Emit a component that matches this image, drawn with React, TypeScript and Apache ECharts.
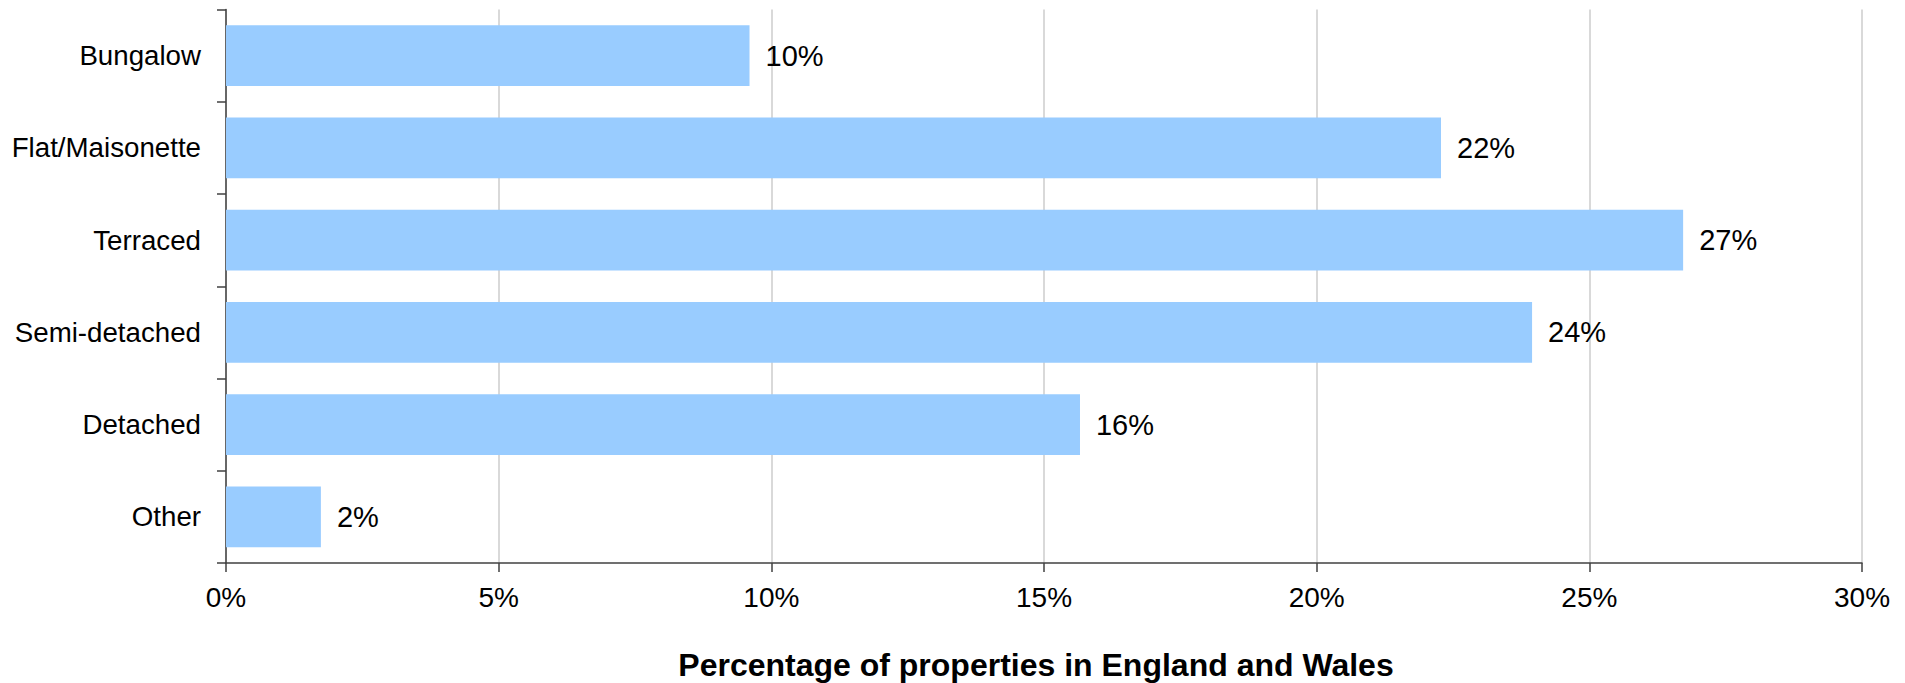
import React, { useEffect, useRef } from "react";
import * as echarts from "echarts";

const categories = ["Bungalow", "Flat/Maisonette", "Terraced", "Semi-detached", "Detached", "Other"];
const shares = [9.6, 22.28, 26.72, 23.95, 15.66, 1.74];
const xTicks = { min: 0, max: 30, interval: 5 };
const axisTitle = "Percentage of properties in England and Wales";

export default function App() {
  const ref = useRef<HTMLDivElement>(null);
  useEffect(() => {
    const chart = echarts.init(ref.current!, null, { renderer: "svg" });
    const font = "'Liberation Sans', Arial, sans-serif";
    chart.setOption({
      animation: false,
      textStyle: { fontFamily: font },
      grid: { left: 226, right: 43, top: 9.5, bottom: 120, containLabel: false },
      xAxis: {
        type: "value",
        min: xTicks.min,
        max: xTicks.max,
        interval: xTicks.interval,
        axisLine: { show: true, lineStyle: { color: "#404040", width: 1.5 } },
        axisTick: { show: true, length: 9, lineStyle: { color: "#404040", width: 1.5 } },
        splitLine: { show: true, lineStyle: { color: "#cccccc", width: 1.5 } },
        axisLabel: {
          formatter: "{value}%",
          color: "#000",
          fontSize: 28,
          margin: 20,
          fontFamily: font,
        },
      },
      yAxis: {
        type: "category",
        data: categories,
        inverse: true,
        axisLine: { show: true, lineStyle: { color: "#404040", width: 1.5 } },
        axisTick: { show: true, length: 9, lineStyle: { color: "#404040", width: 1.5 } },
        axisLabel: { color: "#000", fontSize: 27.7, margin: 25, fontFamily: font },
        splitLine: { show: false },
      },
      graphic: [
        {
          type: "text",
          x: 1036,
          y: 665,
          style: {
            text: axisTitle,
            fill: "#000",
            font: `bold 32px ${font}`,
            textAlign: "center",
            textVerticalAlign: "middle",
            align: "center",
            verticalAlign: "middle",
          },
        },
      ],
      series: [
        {
          type: "bar",
          data: shares,
          barCategoryGap: "34%",
          itemStyle: { color: "#99CCFF" },
          label: {
            show: true,
            position: "right",
            distance: 16,
            color: "#000",
            fontSize: 29,
            fontFamily: font,
            formatter: (p: any) => Math.round(p.value) + "%",
          },
        },
      ],
    });
    return () => chart.dispose();
  }, []);
  return (
    <div
      ref={ref}
      style={{ position: "fixed", left: 0, top: 0, width: "1905px", height: "683px", background: "#fff" }}
    />
  );
}
